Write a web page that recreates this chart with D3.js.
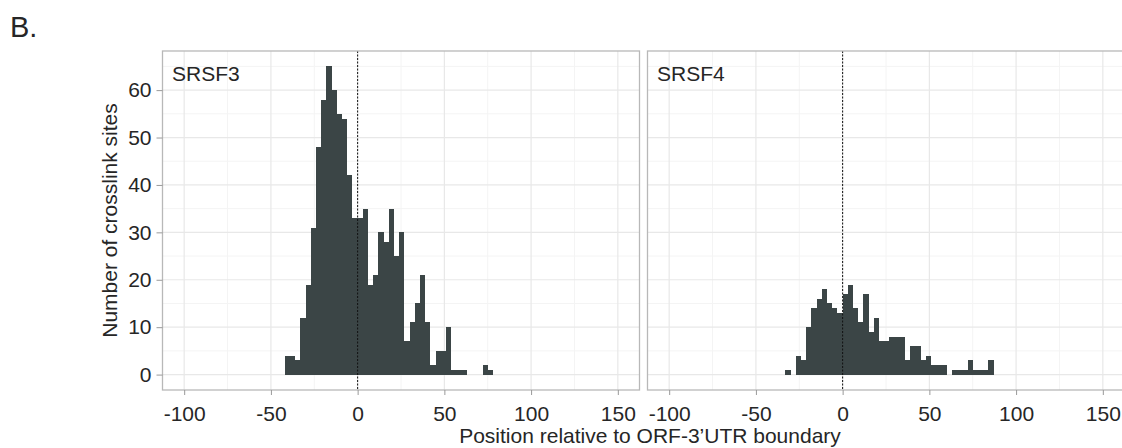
<!DOCTYPE html>
<html>
<head>
<meta charset="utf-8">
<script src="https://cdn.jsdelivr.net/npm/d3@7.9.0/dist/d3.min.js"></script>
<style>
  body { margin: 0; background: #fff; }
  svg { display: block; font-family: 'Liberation Sans', Arial, sans-serif; }
</style>
</head>
<body>
<svg id="chart" width="1122" height="448"></svg>
<script>
// Histogram bins (start of each 3-nt bin) and counts
const binWidth = 3;

const srsf3Bins = [-42, -39, -36, -33, -30, -27, -24, -21, -18, -15, -12, -9, -6, -3,
    0, 3, 6, 9, 12, 15, 18, 21, 24, 27, 30, 33, 36, 39, 42, 45, 48, 51, 54, 57, 60,
    63, 66, 69, 72, 75];
const srsf3Counts = [4, 4, 3, 12, 19, 31, 48, 58, 65, 60, 55, 54, 42, 33,
    33, 35, 19, 21, 30, 28, 35, 25, 30, 7, 11, 15, 21, 11, 2, 5, 5, 10, 1, 1, 1,
    0, 0, 0, 2, 1];

const srsf4Bins = [-33, -30, -27, -24, -21, -18, -15, -12, -9, -6, -3,
    0, 3, 6, 9, 12, 15, 18, 21, 24, 27, 30, 33, 36, 39, 42, 45, 48, 51, 54, 57,
    60, 63, 66, 69, 72, 75, 78, 81, 84];
const srsf4Counts = [1, 0, 4, 3, 10, 14, 16, 18, 15, 14, 13,
    17, 19, 14, 11, 17, 9, 12, 7, 7, 8, 8, 8, 3, 6, 6, 3, 4, 2, 2, 2,
    0, 1, 1, 1, 3, 1, 1, 1, 3];

const panelNames = ['SRSF3', 'SRSF4'];
const xTicks = [-100, -50, 0, 50, 100, 150];
const xMinor = [-75, -25, 25, 75, 125];
const yTicks = [0, 10, 20, 30, 40, 50, 60];
const yMinor = [5, 15, 25, 35, 45, 55, 65];

const panels = [
    { name: panelNames[0], bins: srsf3Bins, counts: srsf3Counts },
    { name: panelNames[1], bins: srsf4Bins, counts: srsf4Counts },
];

const svg = d3.select('#chart');
const barColor = '#3b4546';
const frameColor = '#b8b8b8';
const textColor = '#262626';
const fontSize = 21;

const panelW = 477;
const gap = 8;
const left0 = 162.5;
const plotTop = 51;
const plotBottom = 390;

const y = d3.scaleLinear().domain([-3.25, 68.25]).range([plotBottom, plotTop]);

// panel letter
svg.append('text')
    .attr('x', 10)
    .attr('y', 37)
    .attr('font-size', 29)
    .attr('fill', textColor)
    .text('B.');

panels.forEach((p, i) => {
    const x0 = left0 + i * (panelW + gap);
    const x = d3.scaleLinear().domain([-112.5, 162.5]).range([x0, x0 + panelW]);
    const g = svg.append('g');

    // gridlines
    g.append('g').selectAll('line').data(xMinor).join('line')
        .attr('x1', d => x(d)).attr('x2', d => x(d))
        .attr('y1', plotTop).attr('y2', plotBottom)
        .attr('stroke', '#f4f4f4').attr('stroke-width', 1);
    g.append('g').selectAll('line').data(yMinor).join('line')
        .attr('x1', x0).attr('x2', x0 + panelW)
        .attr('y1', d => y(d)).attr('y2', d => y(d))
        .attr('stroke', '#f4f4f4').attr('stroke-width', 1);
    g.append('g').selectAll('line').data(xTicks).join('line')
        .attr('x1', d => x(d)).attr('x2', d => x(d))
        .attr('y1', plotTop).attr('y2', plotBottom)
        .attr('stroke', '#e8e8e8').attr('stroke-width', 1.2);
    g.append('g').selectAll('line').data(yTicks).join('line')
        .attr('x1', x0).attr('x2', x0 + panelW)
        .attr('y1', d => y(d)).attr('y2', d => y(d))
        .attr('stroke', '#e8e8e8').attr('stroke-width', 1.2);

    // histogram bars (edges snapped to whole pixels so neighbours touch)
    const rows = p.bins.map((b, k) => ({ start: b, count: p.counts[k] }));
    g.append('g')
        .attr('shape-rendering', 'crispEdges')
        .selectAll('rect')
        .data(rows.filter(d => d.count > 0))
        .join('rect')
        .attr('x', d => Math.round(x(d.start)))
        .attr('width', d => Math.round(x(d.start + binWidth)) - Math.round(x(d.start)))
        .attr('y', d => Math.round(y(d.count)))
        .attr('height', d => Math.round(y(0)) - Math.round(y(d.count)))
        .attr('fill', barColor);

    // dotted line at boundary
    g.append('line')
        .attr('x1', x(0)).attr('x2', x(0))
        .attr('y1', plotTop).attr('y2', plotBottom)
        .attr('stroke', '#111')
        .attr('stroke-width', 1)
        .attr('stroke-dasharray', '2,1.5');

    // frame
    g.append('rect')
        .attr('x', x0).attr('y', plotTop)
        .attr('width', panelW).attr('height', plotBottom - plotTop)
        .attr('fill', 'none')
        .attr('stroke', frameColor)
        .attr('stroke-width', 1.3);

    // panel label
    g.append('text')
        .attr('x', x0 + 9.5)
        .attr('y', 80.5)
        .attr('font-size', fontSize)
        .attr('fill', textColor)
        .text(p.name);

    // x axis
    const xAxis = g.append('g')
        .attr('transform', `translate(0, ${plotBottom})`)
        .call(d3.axisBottom(x).tickValues(xTicks).tickFormat(d => String(d))
            .tickSize(5).tickPadding(11));
    xAxis.select('.domain').remove();
    xAxis.selectAll('line').attr('stroke', '#999');
    xAxis.selectAll('text')
        .attr('font-size', fontSize)
        .attr('font-family', "'Liberation Sans', Arial, sans-serif")
        .attr('fill', textColor);

    // y axis (left panel only)
    if (i === 0) {
        const yAxis = g.append('g')
            .attr('transform', `translate(${x0}, 0)`)
            .call(d3.axisLeft(y).tickValues(yTicks).tickFormat(d => String(d))
                .tickSize(6).tickPadding(5));
        yAxis.select('.domain').remove();
        yAxis.selectAll('line').attr('stroke', '#999');
        yAxis.selectAll('text')
            .attr('font-size', fontSize)
            .attr('font-family', "'Liberation Sans', Arial, sans-serif")
            .attr('fill', textColor);
    }
});

// axis titles
svg.append('text')
    .attr('x', 650)
    .attr('y', 443)
    .attr('text-anchor', 'middle')
    .attr('font-size', fontSize)
    .attr('fill', textColor)
    .text('Position relative to ORF-3\u2019UTR boundary');

svg.append('text')
    .attr('transform', `translate(117, ${(plotTop + plotBottom) / 2}) rotate(-90)`)
    .attr('text-anchor', 'middle')
    .attr('font-size', fontSize)
    .attr('fill', textColor)
    .text('Number of crosslink sites');
</script>
</body>
</html>
